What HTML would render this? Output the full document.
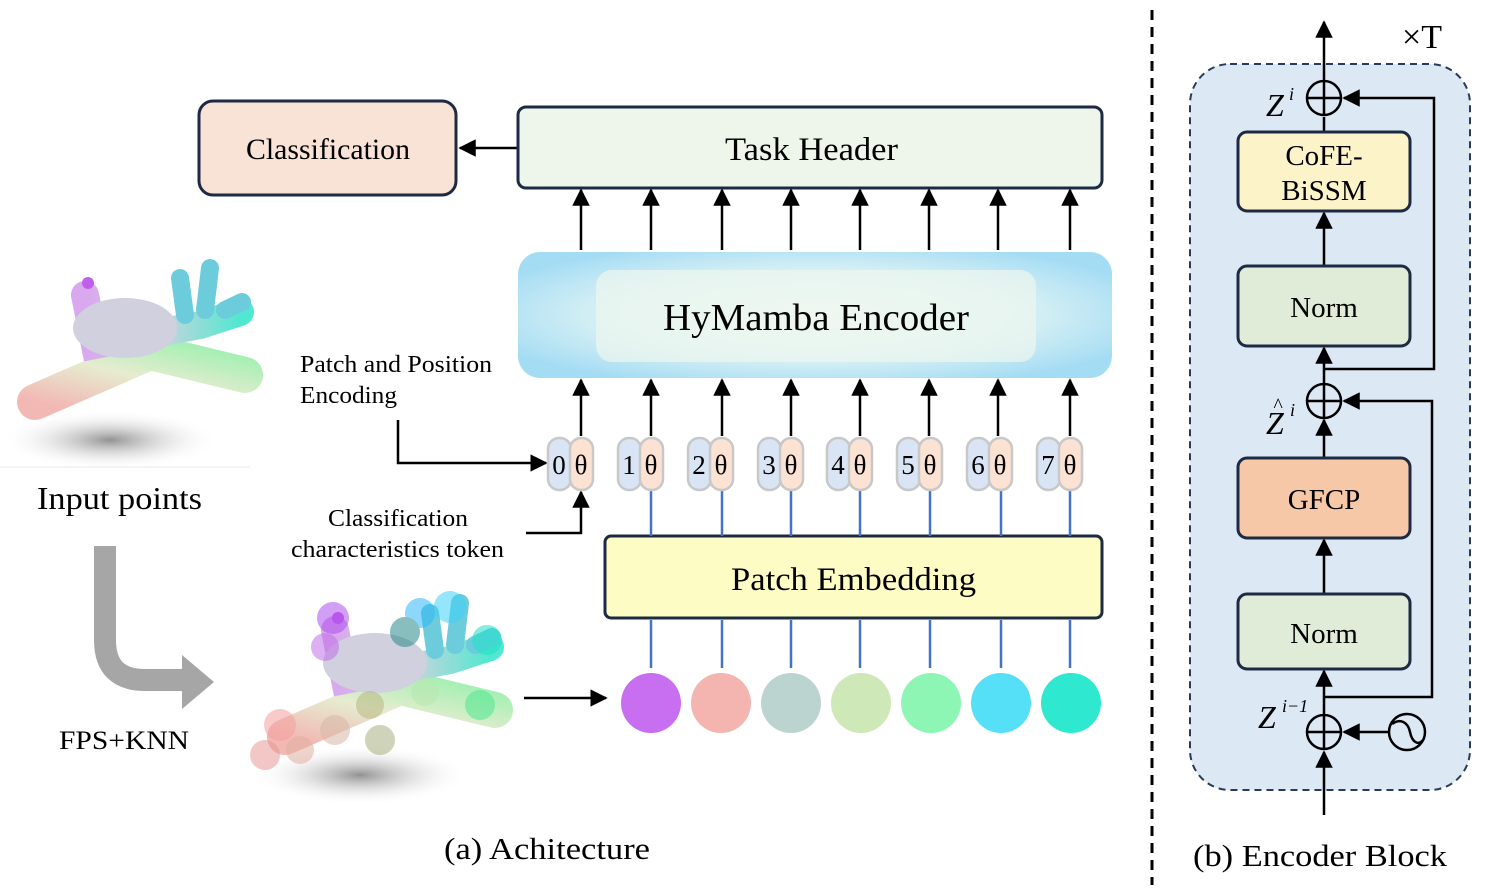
<!DOCTYPE html>
<html><head><meta charset="utf-8"><style>
html,body{margin:0;padding:0;background:#fff;}
svg{display:block;font-family:"Liberation Serif",serif;}
</style></head><body>
<svg width="1495" height="891" viewBox="0 0 1495 891" xmlns="http://www.w3.org/2000/svg">
<defs>
<marker id="ah" viewBox="0 0 10 10" refX="9" refY="5" markerWidth="7" markerHeight="7" orient="auto-start-reverse"><path d="M0,0 L10,5 L0,10 z" fill="#000"/></marker>
<linearGradient id="body" x1="0" y1="1" x2="1" y2="0"><stop offset="0" stop-color="#f2b8b4"/><stop offset="0.5" stop-color="#e6ecd0"/><stop offset="1" stop-color="#9ef0b0"/></linearGradient>
<linearGradient id="top" x1="0" y1="0" x2="1" y2="0"><stop offset="0" stop-color="#d9a8ee"/><stop offset="0.5" stop-color="#c8d4dc"/><stop offset="1" stop-color="#50e8d0"/></linearGradient>
<radialGradient id="shadow"><stop offset="0" stop-color="#777" stop-opacity="0.8"/><stop offset="1" stop-color="#fff" stop-opacity="0"/></radialGradient>
<radialGradient id="enc" cx="0.5" cy="0.5" r="0.6"><stop offset="0" stop-color="#f2f8f2"/><stop offset="0.6" stop-color="#d6f0f4"/><stop offset="1" stop-color="#a4dcf4"/></radialGradient>
<g id="plane">
<ellipse cx="110" cy="440" rx="110" ry="30" fill="url(#shadow)"/>
<path d="M35,402 L150,352 L245,375" stroke="url(#body)" stroke-width="36" stroke-linecap="round" stroke-linejoin="round" fill="none"/>
<path d="M85,295 L95,345 L200,325 L240,312" stroke="url(#top)" stroke-width="28" stroke-linecap="round" fill="none"/>
<path d="M185,315 L180,278 M205,310 L210,268 M225,310 L242,302" stroke="#6cccdc" stroke-width="18" stroke-linecap="round" fill="none"/>
<circle cx="88" cy="283" r="6" fill="#c060e8"/>
<ellipse cx="125" cy="328" rx="52" ry="30" fill="#d0d0de"/>
</g>
</defs>

<use href="#plane"/>
<g transform="translate(250,335)">
<use href="#plane"/>
<g opacity="0.55">
<circle cx="83" cy="283" r="16" fill="#b050f0"/><circle cx="75" cy="312" r="14" fill="#c070e8"/>
<circle cx="170" cy="278" r="15" fill="#30b8f8"/><circle cx="200" cy="272" r="16" fill="#40d0f8"/>
<circle cx="237" cy="305" r="15" fill="#20e0c8"/><circle cx="155" cy="297" r="15" fill="#2a8a8a"/>
<circle cx="230" cy="370" r="15" fill="#50e890"/><circle cx="30" cy="390" r="16" fill="#f4a0a0"/>
<circle cx="15" cy="420" r="15" fill="#e89a98"/><circle cx="50" cy="415" r="14" fill="#e0b0a0"/>
<circle cx="130" cy="405" r="15" fill="#a8b080"/><circle cx="85" cy="395" r="15" fill="#d8b8a8"/>
<circle cx="175" cy="357" r="14" fill="#b8e8b0"/><circle cx="120" cy="370" r="14" fill="#b8b880"/>
</g>
</g>
<rect x="0" y="466" width="250" height="2" fill="#f4f4f4"/>

<text x="37" y="509" font-size="32" textLength="165" lengthAdjust="spacingAndGlyphs">Input points</text>
<path d="M105,546 L105,640 Q105,680 145,680 L185,680" stroke="#a6a6a6" stroke-width="22" fill="none"/>
<path d="M182,655 L214,682 L182,709 z" fill="#a6a6a6"/>
<text x="59" y="749" font-size="26" textLength="130" lengthAdjust="spacingAndGlyphs">FPS+KNN</text>

<text x="300" y="372" font-size="24" textLength="192" lengthAdjust="spacingAndGlyphs">Patch and Position</text>
<text x="300" y="403" font-size="24" textLength="97" lengthAdjust="spacingAndGlyphs">Encoding</text>
<path d="M398,420 L398,463 L546,463" stroke="#000" stroke-width="2.5" fill="none" marker-end="url(#ah)"/>
<text x="328" y="526" font-size="24" textLength="140" lengthAdjust="spacingAndGlyphs">Classification</text>
<text x="291" y="557" font-size="24" textLength="213" lengthAdjust="spacingAndGlyphs">characteristics token</text>
<path d="M526,533 L581,533 L581,492" stroke="#000" stroke-width="2.5" fill="none" marker-end="url(#ah)"/>
<path d="M524,698 L606,698" stroke="#000" stroke-width="2.5" fill="none" marker-end="url(#ah)"/>

<rect x="199" y="101" width="257" height="94" rx="14" fill="#f9e2d6" stroke="#1e2a44" stroke-width="3"/>
<text x="246" y="159" font-size="30" textLength="164" lengthAdjust="spacingAndGlyphs">Classification</text>
<path d="M518,148 L460,148" stroke="#000" stroke-width="2.5" marker-end="url(#ah)"/>
<rect x="518" y="107" width="584" height="81" rx="8" fill="#eef5ea" stroke="#1e2a44" stroke-width="3"/>
<text x="725" y="160" font-size="33" textLength="173" lengthAdjust="spacingAndGlyphs">Task Header</text>

<rect x="518" y="252" width="594" height="126" rx="22" fill="url(#enc)"/>
<rect x="596" y="270" width="440" height="92" rx="16" fill="#eef6ee" opacity="0.7"/>
<text x="663" y="330" font-size="38" textLength="306" lengthAdjust="spacingAndGlyphs">HyMamba Encoder</text>

<rect x="605" y="536" width="497" height="82" rx="6" fill="#fdfcc4" stroke="#1e2a44" stroke-width="3"/>
<text x="731" y="590" font-size="33" textLength="245" lengthAdjust="spacingAndGlyphs">Patch Embedding</text>

<g stroke="#000" stroke-width="2.5" marker-end="url(#ah)">
<path d="M581,250 L581,190"/><path d="M651,250 L651,190"/><path d="M722,250 L722,190"/><path d="M791,250 L791,190"/><path d="M860,250 L860,190"/><path d="M929,250 L929,190"/><path d="M998,250 L998,190"/><path d="M1070,250 L1070,190"/>
<path d="M581,436 L581,380"/><path d="M651,436 L651,380"/><path d="M722,436 L722,380"/><path d="M791,436 L791,380"/><path d="M860,436 L860,380"/><path d="M929,436 L929,380"/><path d="M998,436 L998,380"/><path d="M1070,436 L1070,380"/>
</g>
<g stroke="#4472c4" stroke-width="2.5">
<path d="M651,490 L651,536 M722,490 L722,536 M791,490 L791,536 M860,490 L860,536 M930,490 L930,536 M1001,490 L1001,536 M1070,490 L1070,536"/>
<path d="M651,620 L651,668 M722,620 L722,668 M791,620 L791,668 M860,620 L860,668 M930,620 L930,668 M1001,620 L1001,668 M1070,620 L1070,668"/>
</g>

<g font-size="27" text-anchor="middle">
<g transform="translate(0,0)"><rect x="548" y="438" width="23" height="52" rx="11" fill="#d9e4f4" stroke="#c8c8c8" stroke-width="2.5"/><rect x="570" y="438" width="23" height="52" rx="11" fill="#fbe2d2" stroke="#c8c8c8" stroke-width="2.5"/><text x="559" y="474">0</text><text x="581" y="474">θ</text></g>
<g transform="translate(70,0)"><rect x="548" y="438" width="23" height="52" rx="11" fill="#d9e4f4" stroke="#c8c8c8" stroke-width="2.5"/><rect x="570" y="438" width="23" height="52" rx="11" fill="#fbe2d2" stroke="#c8c8c8" stroke-width="2.5"/><text x="559" y="474">1</text><text x="581" y="474">θ</text></g>
<g transform="translate(140,0)"><rect x="548" y="438" width="23" height="52" rx="11" fill="#d9e4f4" stroke="#c8c8c8" stroke-width="2.5"/><rect x="570" y="438" width="23" height="52" rx="11" fill="#fbe2d2" stroke="#c8c8c8" stroke-width="2.5"/><text x="559" y="474">2</text><text x="581" y="474">θ</text></g>
<g transform="translate(210,0)"><rect x="548" y="438" width="23" height="52" rx="11" fill="#d9e4f4" stroke="#c8c8c8" stroke-width="2.5"/><rect x="570" y="438" width="23" height="52" rx="11" fill="#fbe2d2" stroke="#c8c8c8" stroke-width="2.5"/><text x="559" y="474">3</text><text x="581" y="474">θ</text></g>
<g transform="translate(279,0)"><rect x="548" y="438" width="23" height="52" rx="11" fill="#d9e4f4" stroke="#c8c8c8" stroke-width="2.5"/><rect x="570" y="438" width="23" height="52" rx="11" fill="#fbe2d2" stroke="#c8c8c8" stroke-width="2.5"/><text x="559" y="474">4</text><text x="581" y="474">θ</text></g>
<g transform="translate(349,0)"><rect x="548" y="438" width="23" height="52" rx="11" fill="#d9e4f4" stroke="#c8c8c8" stroke-width="2.5"/><rect x="570" y="438" width="23" height="52" rx="11" fill="#fbe2d2" stroke="#c8c8c8" stroke-width="2.5"/><text x="559" y="474">5</text><text x="581" y="474">θ</text></g>
<g transform="translate(419,0)"><rect x="548" y="438" width="23" height="52" rx="11" fill="#d9e4f4" stroke="#c8c8c8" stroke-width="2.5"/><rect x="570" y="438" width="23" height="52" rx="11" fill="#fbe2d2" stroke="#c8c8c8" stroke-width="2.5"/><text x="559" y="474">6</text><text x="581" y="474">θ</text></g>
<g transform="translate(489,0)"><rect x="548" y="438" width="23" height="52" rx="11" fill="#d9e4f4" stroke="#c8c8c8" stroke-width="2.5"/><rect x="570" y="438" width="23" height="52" rx="11" fill="#fbe2d2" stroke="#c8c8c8" stroke-width="2.5"/><text x="559" y="474">7</text><text x="581" y="474">θ</text></g>
</g>

<circle cx="651" cy="703" r="30" fill="#c86ef0"/>
<circle cx="721" cy="703" r="30" fill="#f4b4b0"/>
<circle cx="791" cy="703" r="30" fill="#bcd4d0"/>
<circle cx="861" cy="703" r="30" fill="#cfe8b8"/>
<circle cx="931" cy="703" r="30" fill="#8ef6b4"/>
<circle cx="1001" cy="703" r="30" fill="#56e0f8"/>
<circle cx="1071" cy="703" r="30" fill="#2ee8d0"/>

<text x="444" y="859" font-size="31" textLength="206" lengthAdjust="spacingAndGlyphs">(a) Achitecture</text>

<line x1="1152" y1="10" x2="1152" y2="885" stroke="#000" stroke-width="3" stroke-dasharray="10,7"/>
<rect x="1190" y="64" width="280" height="726" rx="40" fill="#dce8f4" stroke="#2a3a5a" stroke-width="2" stroke-dasharray="7,5"/>
<text x="1422" y="48" font-size="34" text-anchor="middle">×T</text>

<g stroke="#000" stroke-width="2.5" fill="none">
<path d="M1324,815 L1324,752" marker-end="url(#ah)"/>
<path d="M1324,715 L1324,671" marker-end="url(#ah)"/>
<path d="M1324,594 L1324,540" marker-end="url(#ah)"/>
<path d="M1324,458 L1324,420" marker-end="url(#ah)"/>
<path d="M1324,384 L1324,348" marker-end="url(#ah)"/>
<path d="M1324,266 L1324,213" marker-end="url(#ah)"/>
<path d="M1324,132 L1324,117"/>
<path d="M1324,81 L1324,22" marker-end="url(#ah)"/>
<path d="M1324,697 L1432,697 L1432,401 L1344,401" marker-end="url(#ah)"/>
<path d="M1324,369 L1434,369 L1434,98 L1344,98" marker-end="url(#ah)"/>
<path d="M1389,732 L1344,732" marker-end="url(#ah)"/>
<circle cx="1324" cy="98" r="17"/><path d="M1307,98 L1341,98 M1324,81 L1324,115"/>
<circle cx="1324" cy="401" r="17"/><path d="M1307,401 L1341,401 M1324,384 L1324,418"/>
<circle cx="1324" cy="732" r="17"/><path d="M1307,732 L1341,732 M1324,715 L1324,749"/>
<circle cx="1407" cy="732" r="18"/><path d="M1392,724 C1400,718 1408,722 1410,732 C1412,742 1418,746 1423,740"/>
</g>

<rect x="1238" y="132" width="172" height="79" rx="9" fill="#fdf3c8" stroke="#1e2a44" stroke-width="3"/>
<text x="1324" y="165" font-size="29" text-anchor="middle">CoFE-</text>
<text x="1324" y="200" font-size="29" text-anchor="middle">BiSSM</text>
<rect x="1238" y="266" width="172" height="80" rx="9" fill="#e0ecd8" stroke="#1e2a44" stroke-width="3"/>
<text x="1324" y="317" font-size="29" text-anchor="middle">Norm</text>
<rect x="1238" y="458" width="172" height="80" rx="9" fill="#f6c8a8" stroke="#1e2a44" stroke-width="3"/>
<text x="1324" y="509" font-size="29" text-anchor="middle">GFCP</text>
<rect x="1238" y="594" width="172" height="75" rx="9" fill="#e0ecd8" stroke="#1e2a44" stroke-width="3"/>
<text x="1324" y="643" font-size="29" text-anchor="middle">Norm</text>

<g font-style="italic">
<text x="1266" y="116" font-size="32">Z</text><text x="1289" y="100" font-size="18">i</text>
<text x="1266" y="434" font-size="32">Z</text><text x="1273" y="412" font-size="20">^</text><text x="1290" y="416" font-size="18">i</text>
<text x="1258" y="728" font-size="32">Z</text><text x="1282" y="712" font-size="18">i−1</text>
</g>

<text x="1193" y="866" font-size="31" textLength="254" lengthAdjust="spacingAndGlyphs">(b) Encoder Block</text>
</svg>
</body></html>
